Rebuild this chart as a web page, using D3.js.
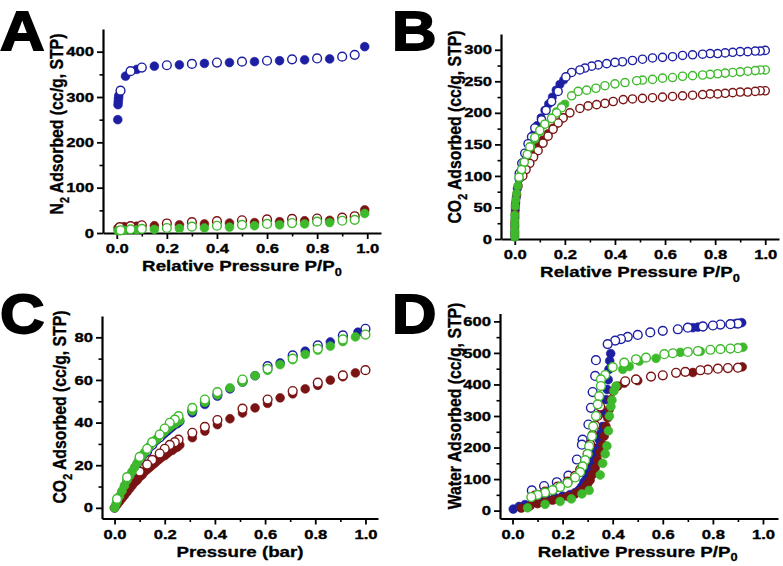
<!DOCTYPE html>
<html><head><meta charset="utf-8">
<script src="https://cdn.jsdelivr.net/npm/d3@7"></script>
<style>
body{margin:0;background:#fff}
text{font-family:"Liberation Sans",Arial,sans-serif;font-weight:bold;fill:#000}
</style>
</head><body>
<svg id="chart" width="783" height="566"></svg>
<script>
// ---------------- DATA ----------------
// Panel A: N2 isotherms  [P/P0, cc/g]
const aBlueAds  = [[0.004,250],[0.005,283],[0.006,290],[0.007,297],[0.008,303],[0.035,346],[0.08,361],[0.15,368],[0.25,371],[0.35,374],[0.45,376],[0.55,378],[0.65,380],[0.75,382],[0.85,384],[0.99,411]];
const aBlueDes  = [[0.015,314],[0.055,357],[0.1,365],[0.2,370],[0.3,373],[0.4,376],[0.5,378],[0.6,380],[0.7,383],[0.8,385],[0.9,389],[0.95,393]];
const aRedAds   = [[0.005,11],[0.03,14],[0.08,15],[0.15,16],[0.25,18],[0.35,20],[0.45,22],[0.55,23],[0.65,25],[0.75,27],[0.85,28],[0.99,51]];
const aRedDes   = [[0.012,13],[0.055,15],[0.1,17],[0.2,21],[0.3,24],[0.4,26],[0.5,28],[0.6,30],[0.7,31],[0.8,32],[0.9,34],[0.95,37]];
const aGreenAds = [[0.005,5],[0.03,6],[0.08,7],[0.15,8],[0.25,10],[0.35,11],[0.45,13],[0.55,16],[0.65,18],[0.75,20],[0.85,23],[0.99,43]];
const aGreenDes = [[0.015,6],[0.055,8],[0.1,9],[0.2,11],[0.3,14],[0.4,16],[0.5,18],[0.6,20],[0.7,22],[0.8,25],[0.9,27],[0.95,29]];

// Panel B: CO2 isotherms [P/P0, cc/g]
const bBlueAds  = [[0,4],[0,12],[0,22],[0.001,34],[0.002,46],[0.003,54],[0.006,66],[0.01,80],[0.017,95],[0.025,108],[0.035,122],[0.045,133],[0.06,150],[0.075,165],[0.09,180],[0.105,192],[0.12,204],[0.135,214],[0.15,225],[0.165,236],[0.18,245],[0.195,252]];
const bBlueDes  = [[1.0,299],[0.98,298],[0.96,298],[0.93,297],[0.9,297],[0.87,296],[0.84,295],[0.81,294],[0.78,294],[0.75,293],[0.71,292],[0.67,291],[0.63,289],[0.59,288],[0.55,287],[0.51,285],[0.47,283],[0.43,281],[0.4,280],[0.367,278],[0.333,276],[0.307,274],[0.28,271],[0.26,268],[0.227,264],[0.204,257],[0.173,234],[0.147,218],[0.125,204],[0.107,189],[0.08,176],[0.067,162],[0.053,151],[0.04,136],[0.028,120],[0.018,104]];
const bRedAds   = [[0,8],[0,18],[0,27],[0.001,40],[0.002,52],[0.004,58],[0.008,70],[0.014,84],[0.022,97],[0.032,108],[0.045,118],[0.06,127],[0.075,136],[0.093,148],[0.113,157],[0.133,167],[0.153,176],[0.173,184],[0.193,192]];
const bRedDes   = [[1.0,235],[0.98,235],[0.96,234],[0.93,233],[0.9,233],[0.87,232],[0.84,231],[0.81,230],[0.78,230],[0.75,229],[0.71,228],[0.67,227],[0.63,226],[0.59,225],[0.55,224],[0.51,223],[0.47,222],[0.433,221],[0.393,218],[0.36,215],[0.327,213],[0.293,211],[0.26,207],[0.22,200],[0.193,192],[0.173,184],[0.153,174],[0.133,163],[0.113,152],[0.093,140],[0.075,130],[0.06,120],[0.045,110],[0.032,100]];
const bGreenAds = [[0,3],[0,9],[0,14],[0,22],[0,30],[0,38],[0.002,52],[0.004,62],[0.007,72],[0.012,84],[0.018,96],[0.025,108],[0.035,120],[0.05,133],[0.065,146],[0.08,158],[0.1,170],[0.12,182],[0.147,192],[0.167,202],[0.187,210],[0.2,214]];
const bGreenDes = [[1.0,268],[0.98,268],[0.96,267],[0.93,266],[0.9,265],[0.87,264],[0.84,263],[0.81,262],[0.78,261],[0.75,260],[0.71,259],[0.67,258],[0.63,256],[0.59,255],[0.55,253],[0.51,252],[0.487,251],[0.44,248],[0.4,246],[0.36,243],[0.324,239],[0.287,236],[0.253,234],[0.227,227],[0.187,208],[0.167,200],[0.147,191],[0.12,182],[0.1,172],[0.08,161],[0.06,146],[0.05,134],[0.038,122],[0.027,110],[0.017,98]];

// Panel C: CO2 at low pressure [bar, cc/g]
const cBlueAds  = [[0,0],[0.01,2.5],[0.02,5],[0.03,7.5],[0.04,10],[0.05,12.5],[0.06,14.5],[0.07,16.5],[0.08,18.5],[0.09,20.5],[0.1,22.5],[0.11,24],[0.12,25.5],[0.13,27],[0.14,28.5],[0.15,29.5],[0.16,31],[0.17,32],[0.18,33],[0.19,34],[0.2,35],[0.21,36],[0.22,37],[0.23,38],[0.24,39],[0.25,39.5],[0.26,40.5],[0.31,44.6],[0.36,48.5],[0.41,52.4],[0.46,55.8],[0.51,59],[0.56,62],[0.61,65],[0.66,68],[0.71,70.5],[0.76,73.5],[0.81,75.5],[0.86,77.8],[0.91,80],[0.97,82.4]];
const cBlueDes  = [[1.0,84],[0.91,80.9],[0.81,76.2],[0.71,71.5],[0.61,66.5],[0.51,59.5],[0.41,53],[0.36,49.5],[0.31,45.5],[0.255,41],[0.24,40],[0.22,38.5],[0.2,36],[0.18,33],[0.15,29.5],[0.13,26.5],[0.1,22.5]];
const cRedAds   = [[0,0],[0.01,1.5],[0.02,3],[0.03,4.5],[0.04,6],[0.05,7.5],[0.06,9],[0.07,10.5],[0.08,12],[0.09,13],[0.1,14.5],[0.11,15.5],[0.12,17],[0.13,18],[0.14,19],[0.15,20],[0.16,21],[0.17,22],[0.18,23],[0.19,24],[0.2,24.5],[0.21,25.5],[0.22,26.5],[0.23,27],[0.24,28],[0.25,28.5],[0.26,29.5],[0.31,32.9],[0.36,36],[0.41,39],[0.46,41.8],[0.51,44.5],[0.56,46.9],[0.61,49],[0.66,51.6],[0.71,53.5],[0.76,55.8],[0.81,57.5],[0.86,59.9],[0.91,61.5],[0.96,63.3]];
const cRedDes   = [[1.0,64.6],[0.91,62.1],[0.81,58.7],[0.71,54.8],[0.61,50.8],[0.51,46.5],[0.41,41.2],[0.36,38],[0.31,35.2],[0.255,32],[0.24,30.8],[0.22,29.5],[0.2,27.7],[0.18,25.5],[0.15,22.5],[0.13,20.3],[0.1,17]];
const cGreenAds = [[0,0],[0.005,1.5],[0.01,3],[0.02,5.5],[0.03,8],[0.04,10.5],[0.05,13],[0.06,15],[0.07,17],[0.08,19],[0.09,21],[0.1,23],[0.11,24.5],[0.12,26],[0.13,27.5],[0.14,29],[0.15,30.5],[0.16,31.5],[0.17,32.5],[0.18,34],[0.19,35],[0.2,36],[0.21,37],[0.22,38],[0.23,39],[0.24,39.5],[0.25,40.5],[0.26,41],[0.31,45.5],[0.36,49.5],[0.41,53],[0.46,56.3],[0.51,59],[0.56,62],[0.61,64.5],[0.66,67.2],[0.71,69.5],[0.76,72],[0.81,74],[0.86,75.9],[0.91,78],[0.96,80.2]];
const cGreenDes = [[1.0,81.3],[0.91,79],[0.81,74.6],[0.71,70],[0.61,65.2],[0.51,60.2],[0.41,54.3],[0.36,50.8],[0.31,46.9],[0.255,43],[0.24,41.4],[0.22,39.9],[0.2,37.2],[0.18,34.4],[0.15,30.8],[0.13,27.7],[0.1,23.9],[0.05,14.4],[0.01,4.2]];

// Panel D: water isotherms [P/P0, cc/g]
const dBlueAds  = [[0.003,5],[0.026,13],[0.05,19],[0.08,25],[0.11,31],[0.14,36],[0.17,41],[0.2,46],[0.23,51],[0.25,57],[0.265,65],[0.275,75],[0.285,90],[0.295,108],[0.305,128],[0.315,150],[0.325,170],[0.334,190],[0.34,200],[0.346,225],[0.353,245],[0.36,267],[0.366,310],[0.373,352],[0.378,384],[0.382,415],[0.385,448],[0.388,475],[0.392,498],[0.72,580],[0.74,582],[0.76,583],[0.87,591],[0.89,593],[0.915,596]];
const dBlueDes  = [[0.9,593],[0.87,591],[0.83,590],[0.8,587],[0.76,584],[0.7,580],[0.66,575],[0.6,570],[0.55,565],[0.5,557],[0.46,551],[0.433,544],[0.41,539],[0.38,528],[0.333,477],[0.33,427],[0.32,376],[0.313,326],[0.303,273],[0.28,225],[0.277,209],[0.257,162],[0.223,111],[0.177,90],[0.126,78],[0.077,64]];
const dRedAds   = [[0.035,8],[0.07,15],[0.1,22],[0.13,28],[0.16,33],[0.19,38],[0.22,45],[0.25,53],[0.27,62],[0.29,75],[0.3,85],[0.31,97],[0.32,115],[0.33,135],[0.34,160],[0.35,185],[0.36,209],[0.366,236],[0.373,267],[0.38,294],[0.386,321],[0.393,352],[0.402,379],[0.42,395],[0.446,404],[0.5,412],[0.72,438],[0.9,454],[0.917,456]];
const dRedDes   = [[0.9,453],[0.86,452],[0.82,450],[0.78,447],[0.75,445],[0.69,440],[0.653,437],[0.6,429],[0.553,425],[0.493,416],[0.45,410],[0.35,330],[0.34,300],[0.33,270],[0.32,240],[0.31,210],[0.3,180],[0.29,155],[0.27,130],[0.25,110],[0.22,92],[0.18,76],[0.13,60],[0.09,48]];
const dGreenAds = [[0.06,9],[0.13,20],[0.19,29],[0.235,37],[0.277,53],[0.306,64],[0.35,113],[0.36,150],[0.37,180],[0.377,205],[0.383,253],[0.387,300],[0.393,330],[0.397,350],[0.405,380],[0.413,395],[0.44,448],[0.466,457],[0.506,474],[0.573,483],[0.67,502],[0.75,505],[0.87,513],[0.92,518]];
const dGreenDes = [[0.9,515],[0.87,514],[0.83,512],[0.79,510],[0.74,506],[0.7,503],[0.64,499],[0.606,496],[0.533,485],[0.493,480],[0.446,469],[0.4,455],[0.37,430],[0.353,416],[0.353,395],[0.346,363],[0.34,337],[0.333,300],[0.322,267],[0.317,236],[0.306,204],[0.3,180],[0.29,160],[0.28,140],[0.27,122],[0.25,105],[0.22,88],[0.19,75],[0.16,65],[0.13,57],[0.1,50],[0.075,43]];

// Tick labels
const xTicks = [0, 0.2, 0.4, 0.6, 0.8, 1.0];
const xMinor = [0.1, 0.3, 0.5, 0.7, 0.9];
const aYTicks = [0, 100, 200, 300, 400];
const bYTicks = [0, 50, 100, 150, 200, 250, 300];
const cYTicks = [0, 20, 40, 60, 80];
const dYTicks = [0, 100, 200, 300, 400, 500, 600];

// ---------------- LAYOUT / STYLE ----------------
const COL = {blue: "#1d1fa3", red: "#7a1414", green: "#3eb92c"};
const SX = 1.3; // horizontal glyph stretch seen in the figure

const panels = [
  {letter: "A", lx: 0, ly: 50, xd: [-0.055, 1.055], xr: [103, 381], yd: [0, 450], yr: [233, 29],
   yTicks: aYTicks, yMinorStep: 50, xTitle: [["Relative Pressure P/P"], ["0", 1]],
   yTitle: [["N"], ["2", 1], [" Adsorbed (cc/g, STP)"]], ytx: 63, yty: 124, r: 4.4,
   series: [[aBlueAds, "blue", 1], [aBlueDes, "blue", 0], [aRedAds, "red", 1], [aRedDes, "red", 0], [aGreenAds, "green", 1], [aGreenDes, "green", 0]]},
  {letter: "B", lx: 392, ly: 50, xd: [-0.055, 1.055], xr: [501, 779], yd: [0, 325], yr: [239, 34],
   yTicks: bYTicks, yMinorStep: 25, xTitle: [["Relative Pressure P/P"], ["0", 1]],
   yTitle: [["CO"], ["2", 1], [" Adsorbed (cc/g, STP)"]], ytx: 461, yty: 127, r: 4.1,
   series: [[bBlueAds, "blue", 1], [bBlueDes, "blue", 0], [bRedAds, "red", 1], [bRedDes, "red", 0], [bGreenAds, "green", 1], [bGreenDes, "green", 0]]},
  {letter: "C", lx: 0, ly: 333, xd: [-0.05, 1.05], xr: [102, 378], yd: [-5, 90], yr: [518.5, 316],
   yTicks: cYTicks, yMinorStep: 10, xTitle: [["Pressure (bar)"]],
   yTitle: [["CO"], ["2", 1], [" Adsorbed (cc/g, STP)"]], ytx: 66, yty: 407, r: 4.4,
   series: [[cBlueAds, "blue", 1], [cBlueDes, "blue", 0], [cRedAds, "red", 1], [cRedDes, "red", 0], [cGreenAds, "green", 1], [cGreenDes, "green", 0]]},
  {letter: "D", lx: 392, ly: 333, xd: [-0.05, 1.06], xr: [500, 778], yd: [-25, 625], yr: [518.5, 313.5],
   yTicks: dYTicks, yMinorStep: 50, xTitle: [["Relative Pressure P/P"], ["0", 1]],
   yTitle: [["Water Adsorbed (cc/g, STP)"]], ytx: 461, yty: 406, r: 4.4,
   series: [[dBlueAds, "blue", 1], [dBlueDes, "blue", 0], [dRedAds, "red", 1], [dRedDes, "red", 0], [dGreenAds, "green", 1], [dGreenDes, "green", 0]]}
];

const svg = d3.select("#chart");

function addParts(t, parts, size) {
  let shift = 0;
  parts.forEach(([s, sub]) => {
    const ts = t.append("tspan").text(s);
    if (sub) { ts.attr("font-size", size * 0.68).attr("dy", size * 0.3); shift = size * 0.3; }
    else { ts.attr("dy", -shift); shift = 0; }
  });
}

panels.forEach(p => {
  const g = svg.append("g");
  const x = d3.scaleLinear().domain(p.xd).range(p.xr);
  const y = d3.scaleLinear().domain(p.yd).range(p.yr);

  // panel letter
  g.append("text").attr("transform", `translate(${p.lx},${p.ly}) scale(1.12,1)`)
    .attr("font-size", 55).attr("stroke", "#000").attr("stroke-width", 1.8).text(p.letter);

  // minor ticks
  const yMinor = d3.range(p.yTicks[0] + p.yMinorStep, p.yd[1], p.yMinorStep).filter(v => !p.yTicks.includes(v));
  g.append("g").attr("transform", `translate(0,${p.yr[0]})`)
    .call(d3.axisBottom(x).tickValues(xMinor).tickSize(3.5).tickFormat("").tickSizeOuter(0))
    .call(a => a.select(".domain").remove())
    .selectAll("line").attr("stroke-width", 1.6);
  g.append("g").attr("transform", `translate(${p.xr[0]},0)`)
    .call(d3.axisLeft(y).tickValues(yMinor).tickSize(3.5).tickFormat("").tickSizeOuter(0))
    .call(a => a.select(".domain").remove())
    .selectAll("line").attr("stroke-width", 1.6);

  // major axes
  const xa = g.append("g").attr("transform", `translate(0,${p.yr[0]})`)
    .call(d3.axisBottom(x).tickValues(xTicks).tickFormat(d3.format(".1f")).tickSize(6).tickSizeOuter(0).tickPadding(5));
  const ya = g.append("g").attr("transform", `translate(${p.xr[0]},0)`)
    .call(d3.axisLeft(y).tickValues(p.yTicks).tickFormat(d3.format("d")).tickSize(6).tickSizeOuter(0).tickPadding(3));
  [xa, ya].forEach(a => {
    a.attr("font-family", null).attr("font-size", null);
    a.select(".domain").attr("stroke-width", 2.2);
    a.selectAll(".tick line").attr("stroke-width", 1.8);
    a.selectAll("text").attr("font-size", 12.8).attr("stroke", "#000").attr("stroke-width", 0.35);
  });
  xa.selectAll("text").attr("transform", `scale(${SX},1)`);
  ya.selectAll("text").attr("transform", `scale(${SX},1)`).attr("x", -9 / SX);

  // titles
  const xt = g.append("text").attr("text-anchor", "middle").attr("font-size", 15)
    .attr("stroke", "#000").attr("stroke-width", 0.3)
    .attr("transform", `translate(${x(0.5)},${p.yr[0] + 38}) scale(1.25,1)`);
  addParts(xt, p.xTitle, 15);
  const yt = g.append("text").attr("text-anchor", "middle").attr("font-size", 15.8)
    .attr("stroke", "#000").attr("stroke-width", 0.3)
    .attr("transform", `translate(${p.ytx},${p.yty}) rotate(-90) scale(1,1.18)`);
  addParts(yt, p.yTitle, 15.8);

  // data points
  p.series.forEach(([data, c, filled]) => {
    g.append("g").selectAll("circle").data(data).join("circle")
      .attr("cx", d => x(d[0])).attr("cy", d => y(d[1])).attr("r", p.r)
      .attr("fill", filled ? COL[c] : "#fff")
      .attr("stroke", COL[c]).attr("stroke-width", filled ? 0.6 : 1.4);
  });
});
</script>
</body></html>
